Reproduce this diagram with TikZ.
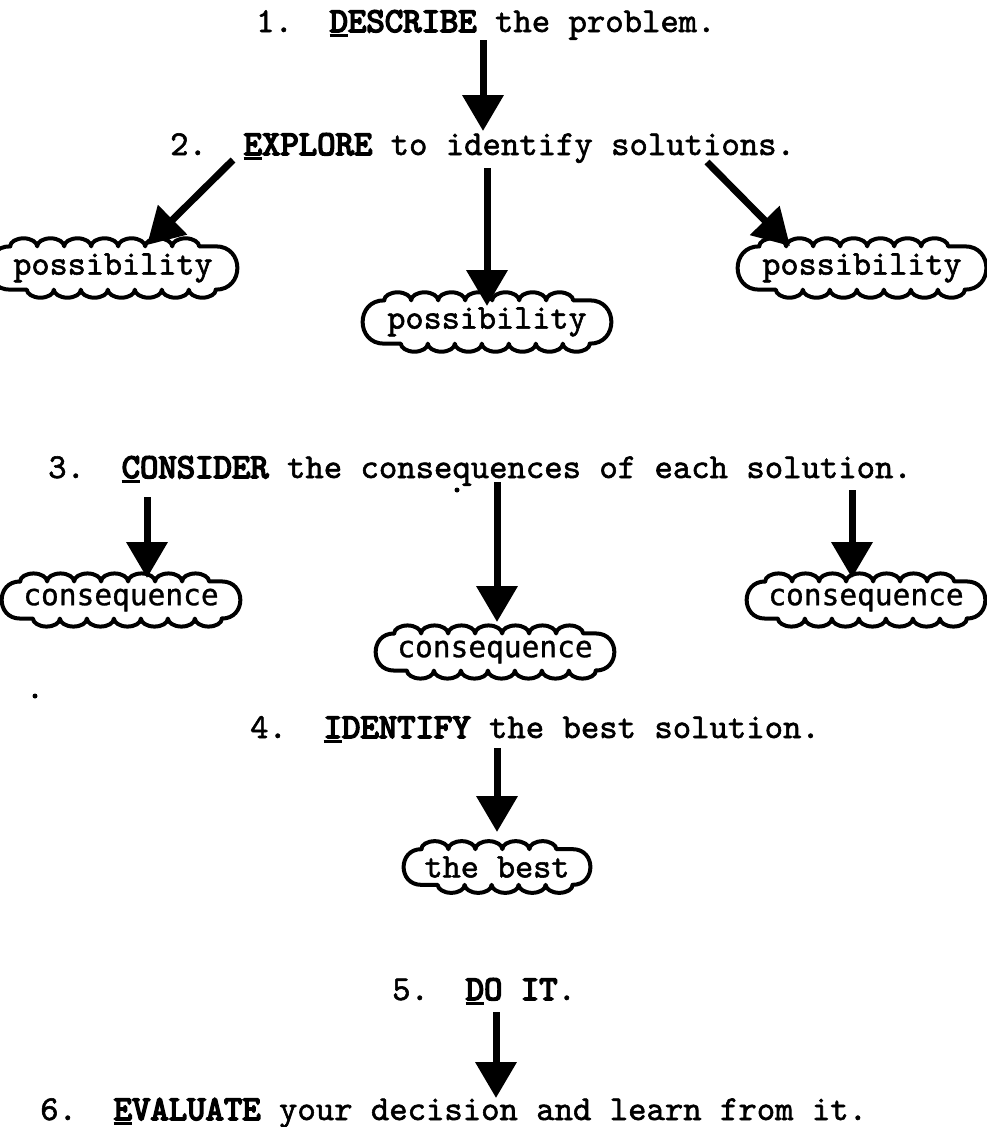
\documentclass[tikz,border=0pt]{standalone}
\usepackage{fontspec}
\usetikzlibrary{arrows.meta,decorations.pathmorphing}
\newfontfamily\twr{lmmono10-regular.otf}[FakeBold=1.6]
\newfontfamily\twb{lmmono10-regular.otf}[FakeBold=4.5]
\newfontfamily\tws{DejaVu Sans Mono}[FakeBold=1]
\newcommand\kw[2]{{\twb\rlap{\rule[-5pt]{0.525em}{2.8pt}}#1#2}}
\tikzset{
  stepline/.style={anchor=base west,inner sep=0pt,font=\twr\fontsize{35}{35}\selectfont},
  bigarrow/.style={line width=7pt,-{Triangle[width=40pt,length=36pt]}},
  cloudtext/.style={inner xsep=3pt,inner ysep=7pt,font=\twr\fontsize{34.5}{34.5}\selectfont},
  constext/.style={cloudtext,font=\tws\fontsize{29.5}{29.5}\selectfont},
  cloudline/.style={line width=4pt,line cap=round,line join=round,
    decoration={bumps,segment length=54pt,amplitude=8pt}},
}
\newcommand\cloudfor[1]{%
  \draw[cloudline] decorate{(#1.north west) -- (#1.north east)}
     to[out=0,in=0,looseness=1.7] (#1.south east);
  \draw[cloudline] decorate{(#1.south east) -- (#1.south west)}
     to[out=180,in=180,looseness=1.7] (#1.north west);}
\begin{document}
\begin{tikzpicture}[x=1pt,y=-1pt]
\useasboundingbox[fill=white] (0,0) rectangle (987,1127);
% step lines
\node[stepline] (s1) at (256,32) {1.\ \ \kw{D}{ESCRIBE} the problem.};
\node[stepline] (s2) at (170,155) {2.\ \ \kw{E}{XPLORE} to identify solutions.};
\node[stepline] (s3) at (48,478) {3.\ \ \kw{C}{ONSIDER} the consequences of each solution.};
\node[stepline] (s4) at (250,738) {4.\ \ \kw{I}{DENTIFY} the best solution.};
\node[stepline] (s5) at (392,1000) {5.\ \ \kw{D}{O IT}.};
\node[stepline] (s6) at (40,1120) {6.\ \ \kw{E}{VALUATE} your decision and learn from it.};
% clouds
\node[cloudtext] (p1) at (113,268) {possibility};
\node[cloudtext] (p2) at (487,322) {possibility};
\node[cloudtext] (p3) at (862,268) {possibility};
\node[constext] (c1) at (121,600) {consequence};
\node[constext] (c2) at (495,652) {consequence};
\node[constext] (c3) at (866,600) {consequence};
\node[cloudtext] (b1) at (497,867) {the best};
\foreach \n in {p1,p2,p3,c1,c2,c3,b1}{\cloudfor{\n}}
% arrow end points
\coordinate (a1s) at (483,40);  \coordinate (a1e) at (483,131);
\coordinate (a2s) at (233,160); \coordinate (a2e) at (147,245);
\coordinate (a3s) at (487,168); \coordinate (a3e) at (487,306);
\coordinate (a4s) at (707,162); \coordinate (a4e) at (790,246);
\coordinate (a5s) at (147,497); \coordinate (a5e) at (147,578);
\coordinate (a6s) at (497,482); \coordinate (a6e) at (497,622);
\coordinate (a7s) at (852,490); \coordinate (a7e) at (852,578);
\coordinate (a8s) at (497,748); \coordinate (a8e) at (497,832);
\coordinate (a9s) at (496,1012); \coordinate (a9e) at (496,1098);
\foreach \i in {1,...,9}{\draw[bigarrow] (a\i s) -- (a\i e);}
% specks
\fill (457,490) circle (2.5);
\fill (35,696) circle (2.5);
\end{tikzpicture}
\end{document}
